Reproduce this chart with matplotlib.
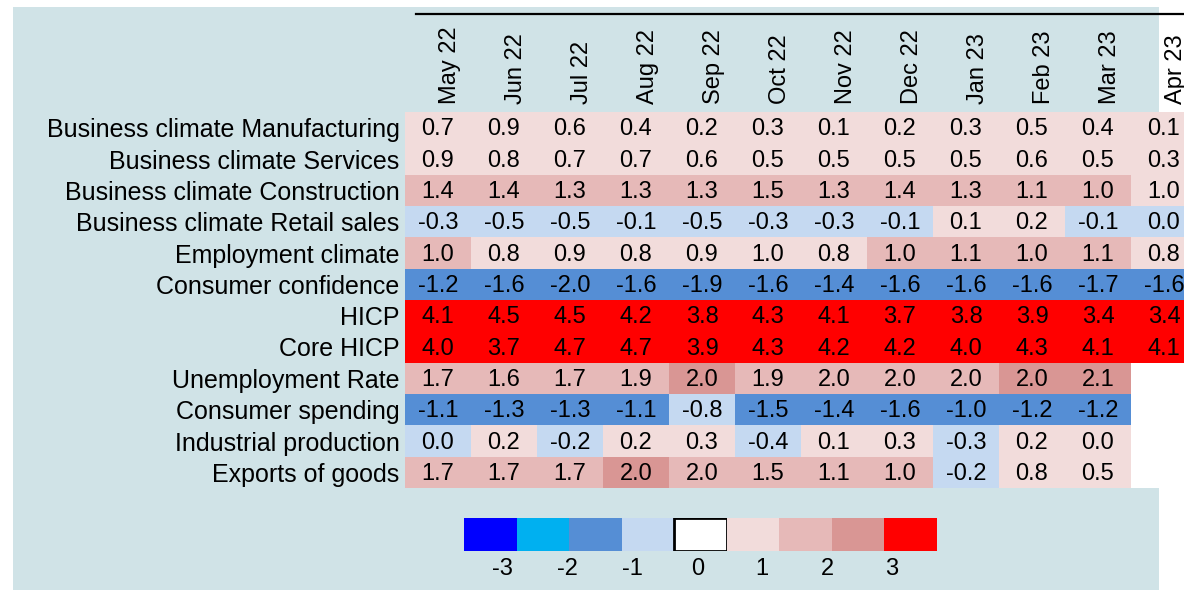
import numpy as np
import matplotlib.pyplot as plt
from matplotlib.colors import ListedColormap, BoundaryNorm
from matplotlib.patches import Rectangle
from matplotlib.lines import Line2D

plt.rcParams['font.family'] = ['Liberation Sans', 'DejaVu Sans']

months = ['May 22', 'Jun 22', 'Jul 22', 'Aug 22', 'Sep 22', 'Oct 22',
          'Nov 22', 'Dec 22', 'Jan 23', 'Feb 23', 'Mar 23', 'Apr 23']

indicators = ['Business climate Manufacturing', 'Business climate Services',
              'Business climate Construction', 'Business climate Retail sales',
              'Employment climate', 'Consumer confidence', 'HICP', 'Core HICP',
              'Unemployment Rate', 'Consumer spending', 'Industrial production',
              'Exports of goods']

# z-scores; an extra digit where the cell colour shows which side of a bin edge it sits
manufacturing = [0.7, 0.9, 0.6, 0.4, 0.2, 0.3, 0.1, 0.2, 0.3, 0.5, 0.4, 0.1]
services = [0.9, 0.8, 0.7, 0.7, 0.6, 0.5, 0.5, 0.5, 0.5, 0.6, 0.5, 0.3]
construction = [1.4, 1.4, 1.3, 1.3, 1.3, 1.5, 1.3, 1.4, 1.3, 1.1, 1.02, 0.98]
retail = [-0.3, -0.5, -0.5, -0.1, -0.5, -0.3, -0.3, -0.1, 0.1, 0.2, -0.1, -0.02]
employment = [1.02, 0.8, 0.9, 0.8, 0.9, 0.98, 0.8, 1.02, 1.1, 1.02, 1.1, 0.8]
confidence = [-1.2, -1.6, -1.98, -1.6, -1.9, -1.6, -1.4, -1.6, -1.6, -1.6, -1.7, -1.6]
hicp = [4.1, 4.5, 4.5, 4.2, 3.8, 4.3, 4.1, 3.7, 3.8, 3.9, 3.4, 3.4]
core_hicp = [4.0, 3.7, 4.7, 4.7, 3.9, 4.3, 4.2, 4.2, 4.0, 4.3, 4.1, 4.1]
unemployment = [1.7, 1.6, 1.7, 1.9, 2.02, 1.9, 1.98, 1.98, 1.98, 2.02, 2.1, np.nan]
spending = [-1.1, -1.3, -1.3, -1.1, -0.8, -1.5, -1.4, -1.6, -1.02, -1.2, -1.2, np.nan]
industrial = [-0.02, 0.2, -0.2, 0.2, 0.3, -0.4, 0.1, 0.3, -0.3, 0.2, 0.02, np.nan]
exports = [1.7, 1.7, 1.7, 2.02, 1.98, 1.5, 1.1, 1.02, -0.2, 0.8, 0.5, np.nan]

bin_edges = [-10, -3, -2, -1, 0, 1, 2, 3, 10]
bin_colors = ['#0000ff', '#00b0f0', '#558ed5', '#c5d9f1',
              '#f2dcdb', '#e6b9b8', '#d99694', '#ff0000']
legend_colors = bin_colors[:4] + ['#ffffff'] + bin_colors[4:]
legend_labels = ['-3', '-2', '-1', '0', '1', '2', '3']

data = np.array([manufacturing, services, construction, retail, employment,
                 confidence, hicp, core_hicp, unemployment, spending,
                 industrial, exports])

W, H = 1184, 590
fig = plt.figure(figsize=(W / 100, H / 100), dpi=100, facecolor='white')

# background panel (behind the axes)
fig.patches.append(Rectangle((13 / W, 0), (1159 - 13) / W, 1 - 7 / H,
                             transform=fig.transFigure, facecolor='#d0e3e7',
                             edgecolor='none', zorder=-5))
fig.lines.append(Line2D([416 / W, 1.0], [1 - 14 / H, 1 - 14 / H],
                        transform=fig.transFigure, color='black', lw=1.6))

cmap = ListedColormap(bin_colors)
norm = BoundaryNorm(bin_edges, cmap.N)

ax = fig.add_axes([405 / W, 102 / H, 792 / W, 376 / H])
ax.set_facecolor('white')
ax.pcolormesh(data, cmap=cmap, norm=norm)
ax.set_xlim(0, len(months))
ax.set_ylim(len(indicators), 0)
for s in ax.spines.values():
    s.set_visible(False)

ax.set_xticks([])
ax.set_yticks(np.arange(len(indicators)) + 0.5)
ax.set_yticklabels(indicators, fontsize=18)
ax.tick_params(axis='y', length=0, pad=4)

for j, m in enumerate(months):
    ax.text(j + 0.68, 1.02, m, transform=ax.get_xaxis_transform(),
            rotation=90, ha='center', va='bottom', fontsize=17, clip_on=False)

for i in range(data.shape[0]):
    for j in range(data.shape[1]):
        v = data[i, j]
        if np.isnan(v):
            continue
        txt = '{:.1f}'.format(v)
        if txt == '-0.0':
            txt = '0.0'
        ax.text(j + 0.5, i + 0.55, txt, ha='center', va='center',
                fontsize=17)

# colour legend
lax = fig.add_axes([464 / W, (H - 551) / H, (937 - 464) / W, 33 / H])
lax.set_xlim(0, len(legend_colors))
lax.set_ylim(0, 1)
for k, c in enumerate(legend_colors):
    ec = 'black' if c == '#ffffff' else 'none'
    lax.add_patch(Rectangle((k, 0), 1, 1, facecolor=c, edgecolor=ec,
                            lw=2 if ec == 'black' else 0))
lax.axis('off')
for x, lab in zip(np.linspace(0.74, 8.14, len(legend_labels)), legend_labels):
    lax.text(x, -0.55, lab, ha='center', va='center', fontsize=17)

fig.savefig('out.png', dpi=100, facecolor='white')
